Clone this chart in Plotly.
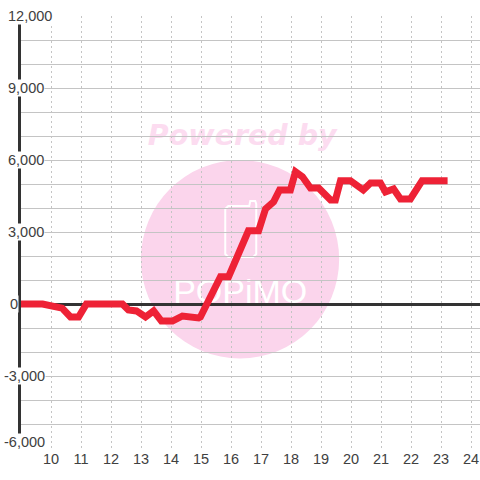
import plotly.graph_objects as go

hours = [8.89, 9.72, 10.37, 10.65, 10.92, 11.18, 12.38, 12.58, 12.85, 13.15, 13.42, 13.68, 14.05, 14.38,
         14.92, 14.98, 15.65, 15.92, 16.58, 16.92, 17.15, 17.42, 17.62, 17.98, 18.15, 18.38, 18.65, 18.92,
         19.32, 19.48, 19.65, 19.98, 20.41, 20.65, 20.98, 21.15, 21.42, 21.65, 21.98, 22.37, 23.22]
values = [0, 0, -170, -540, -540, 0, 0, -250, -290, -540, -290, -710, -710, -500,
          -580, -540, 1140, 1140, 3050, 3050, 3960, 4260, 4750, 4750, 5510, 5300, 4830, 4830,
          4330, 4330, 5140, 5140, 4750, 5040, 5040, 4670, 4790, 4375, 4375, 5140, 5140]
x_ticks = list(range(10, 25))
y_ticks = list(range(-6000, 12001, 1000))
y_label_values = [12000, 9000, 6000, 3000, 0, -3000, -6000]
y_label_text = ["12,000", "9,000", "6,000", "3,000", "0", "-3,000", "-6,000"]

L, T, B = 20.5, 16, 448
W = 480 - L
PINK = "#fbd5ec"
FONT = "Liberation Sans"
TXT = "#404040"


def px(v):
    return (v - L) / W


def py(v):
    return (B - v) / (B - T)


def pbox(x0, y0, x1, y1):
    return dict(xref="paper", yref="paper", x0=px(x0), x1=px(x1), y0=py(y0), y1=py(y1))


fig = go.Figure(go.Scatter(x=hours, y=values, mode="lines", cliponaxis=False,
                           line=dict(color="#ee2236", width=7), hoverinfo="skip"))

shapes = [
    dict(type="circle", layer="below", fillcolor=PINK, line_width=0, **pbox(140.5, 160, 339, 358.5)),
    dict(type="rect", layer="below", line_width=0, fillcolor="rgba(0,0,0,0)", **pbox(130, 115, 354, 151),
         label=dict(text="<b><i>Powered by</i></b>", textposition="middle center",
                    font=dict(family="DejaVu Sans", size=28.5, color="#fcdcf0"))),
    dict(type="rect", layer="below", line_width=0, fillcolor="rgba(0,0,0,0)", **pbox(165, 268, 315, 308),
         label=dict(text="POPiMO", textposition="middle center",
                    font=dict(family=FONT, size=34, color="white"))),
]
p = lambda a, b: f"{px(a):.4f},{py(b):.4f}"
phone = (f"M{p(228,206)} L{p(249,206)} L{p(250,201)} L{p(255,201)} L{p(256,204)} "
         f"L{p(256,254)} L{p(253,257)} L{p(228,257)} L{p(225,254)} L{p(225,209)} Z")
shapes.append(dict(type="path", layer="below", xref="paper", yref="paper", path=phone,
                   line=dict(color="white", width=2), fillcolor="rgba(0,0,0,0)"))

annotations = []
for v, t in zip(y_label_values, y_label_text):
    annotations.append(dict(xref="x", yref="y", x=9, y=v, text=t, showarrow=False, xanchor="left",
                            xshift=-18.5 if t.startswith("-") else (-12.5 if t == "0" else -14.5),
                            yshift=6 if v == -6000 else 0, bgcolor="white", borderpad=0,
                            font=dict(family=FONT, size=14.5, color=TXT)))

fig.update_layout(
    width=480, height=480, autosize=False, showlegend=False,
    margin=dict(l=L, r=0, t=T, b=480 - B, pad=0, autoexpand=False),
    paper_bgcolor="white", plot_bgcolor="rgba(0,0,0,0)",
    shapes=shapes, annotations=annotations,
    xaxis=dict(range=[9, 24.3], tickmode="array", tickvals=x_ticks, ticktext=[str(v) for v in x_ticks],
               showgrid=True, gridcolor="#c4c4c4", gridwidth=1, griddash="2px,3px",
               zeroline=False, showline=False, ticks="",
               tickfont=dict(family=FONT, size=14.5, color=TXT)),
    yaxis=dict(range=[-6000, 12000], tickmode="array", tickvals=y_ticks, showticklabels=False,
               showgrid=True, gridcolor="#c4c4c4", gridwidth=1.4,
               zeroline=True, zerolinecolor="#333333", zerolinewidth=3,
               showline=True, linecolor="#333333", linewidth=3, ticks=""),
)

fig.write_html("out.html", config={"displayModeBar": False},
               post_script="document.body.style.margin='0';")
